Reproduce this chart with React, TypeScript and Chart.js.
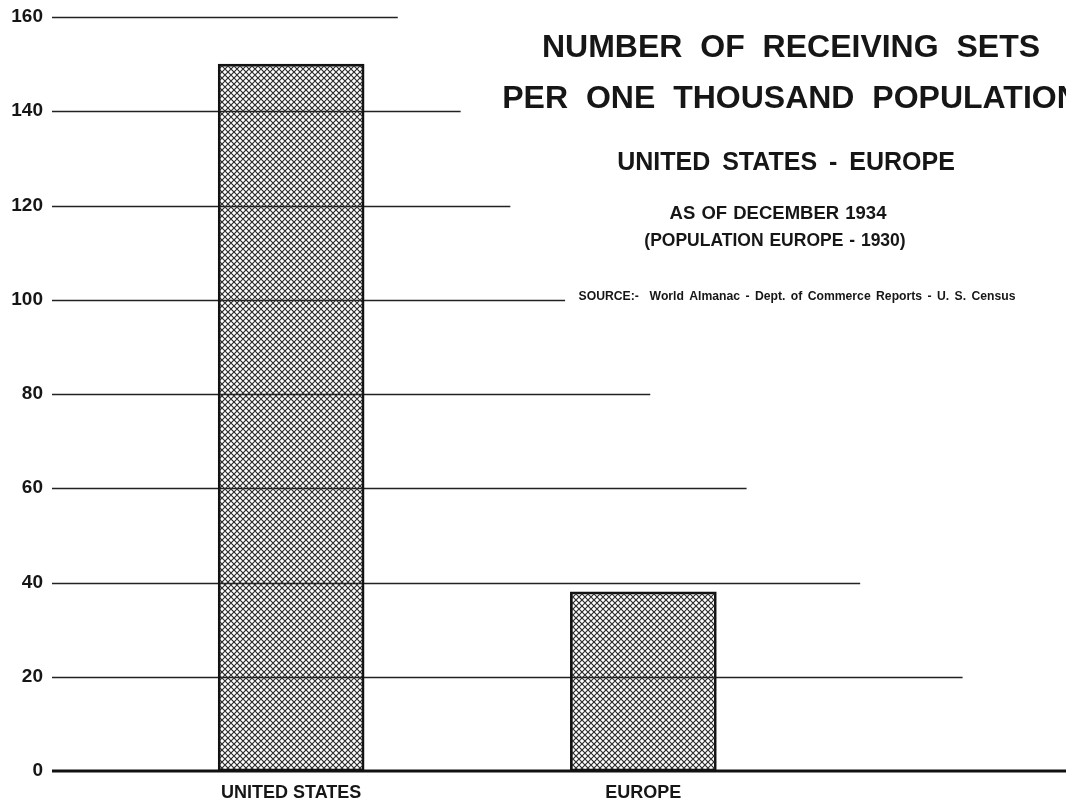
import React, { useEffect, useRef } from "react";
import { Chart, registerables } from "chart.js";

Chart.register(...registerables);

// ---- data ----
const categories = ["UNITED STATES", "EUROPE"];
const setsPerThousand = [150, 38];
const yMin = 0;
const yMax = 160;
const yStep = 20;
const titleLines = [
  "NUMBER OF RECEIVING SETS",
  "PER ONE THOUSAND POPULATION",
  "UNITED STATES - EUROPE",
  "AS OF DECEMBER 1934",
  "(POPULATION EUROPE - 1930)",
  "SOURCE:-  World Almanac - Dept. of Commerce Reports - U. S. Census",
];

// ---- styles ----
// gridline end as fraction of chart width, for values 0,20,...,160
const gridEndFractions = [1.0, 0.898, 0.797, 0.685, 0.59, 0.506, 0.452, 0.403, 0.341];
const titleStyles = [
  { font: "bold 32px 'Liberation Sans'", y: 48, ws: "9px", x: 791 },
  { font: "bold 32px 'Liberation Sans'", y: 99, ws: "9px", x: 791 },
  { font: "bold 25px 'Liberation Sans'", y: 163, ws: "5px", x: 786 },
  { font: "bold 18.5px 'Liberation Sans'", y: 214, ws: "1px", x: 778 },
  { font: "bold 17.5px 'Liberation Sans'", y: 241, ws: "1px", x: 775 },
  { font: "bold 12.2px 'Liberation Sans'", y: 297, ws: "2px", x: 797 },
];
const INK = "#161616";

function makeHatch(): CanvasPattern | string {
  const size = 6;
  const c = document.createElement("canvas");
  c.width = size;
  c.height = size;
  const g = c.getContext("2d");
  if (!g) return "#888";
  g.clearRect(0, 0, size, size);
  g.strokeStyle = "#2a2a2a";
  g.lineWidth = 1.15;
  g.beginPath();
  g.moveTo(-1, -1);
  g.lineTo(size + 1, size + 1);
  g.moveTo(size + 1, -1);
  g.lineTo(-1, size + 1);
  g.stroke();
  const ctx2 = document.createElement("canvas").getContext("2d");
  return (ctx2 && ctx2.createPattern(c, "repeat")) || "#888";
}

const gridPlugin = {
  id: "stairGrid",
  beforeDatasetsDraw(chart: any) {
    const { ctx, chartArea, scales } = chart;
    const y = scales.y;
    ctx.save();
    ctx.strokeStyle = "#222";
    ctx.lineWidth = 1.5;
    for (let i = 1; i < gridEndFractions.length; i++) {
      const v = yMin + i * yStep;
      const py = Math.round(y.getPixelForValue(v)) + 0.5;
      const xEnd = chartArea.left + gridEndFractions[i] * (chartArea.right - chartArea.left);
      ctx.beginPath();
      ctx.moveTo(chartArea.left, py);
      ctx.lineTo(xEnd, py);
      ctx.stroke();
    }
    ctx.restore();
  },
  afterDatasetsDraw(chart: any) {
    const { ctx, chartArea, scales } = chart;
    const y = scales.y;
    const py = y.getPixelForValue(yMin);
    ctx.save();
    ctx.strokeStyle = "#111";
    ctx.lineWidth = 3;
    ctx.beginPath();
    ctx.moveTo(chartArea.left, py);
    ctx.lineTo(chartArea.left + gridEndFractions[0] * (chartArea.right - chartArea.left), py);
    ctx.stroke();
    ctx.restore();
  },
  afterDraw(chart: any) {
    const { ctx } = chart;
    ctx.save();
    ctx.fillStyle = INK;
    ctx.textAlign = "center";
    ctx.textBaseline = "middle";
    titleLines.forEach((t, i) => {
      const s = titleStyles[i];
      ctx.font = s.font;
      try {
        (ctx as any).wordSpacing = s.ws;
      } catch (e) {}
      ctx.fillText(t, s.x, s.y);
    });
    ctx.restore();
  },
};

export default function App() {
  const ref = useRef<HTMLCanvasElement | null>(null);
  useEffect(() => {
    document.body.style.margin = "0";
    document.body.style.background = "#fff";
    if (!ref.current) return;
    const hatch = makeHatch();
    const chart = new Chart(ref.current, {
      type: "bar",
      data: {
        datasets: [
          {
            data: setsPerThousand.map((v, i) => ({ x: i, y: v })),
            backgroundColor: hatch as any,
            borderColor: "#111",
            borderWidth: 2,
            borderSkipped: false,
            barThickness: 146,
          },
        ],
      },
      options: {
        animation: false,
        responsive: false,
        devicePixelRatio: 1,
        layout: { padding: { top: 17, right: 0, left: 0, bottom: 0 } },
        plugins: {
          legend: { display: false },
          tooltip: { enabled: false },
          title: { display: false },
        },
        scales: {
          x: {
            type: "linear",
            offset: false,
            min: -0.679,
            max: 2.2,
            grid: { display: false, drawTicks: false, offset: false },
            border: { display: false },
            afterBuildTicks: (scale: any) => {
              scale.ticks = categories.map((_, i) => ({ value: i }));
            },
            afterFit: (scale: any) => {
              scale.height = 31;
              scale.paddingLeft = 0;
              scale.paddingRight = 0;
            },
            ticks: {
              autoSkip: false,
              maxRotation: 0,
              padding: 11,
              color: INK,
              font: { family: "'Liberation Sans'", size: 18, weight: "bold" },
              callback: (v: any) => categories[v as number] ?? "",
            },
          },
          y: {
            type: "linear",
            min: yMin,
            max: yMax,
            grid: { display: false, drawTicks: false },
            border: { display: false },
            afterFit: (scale: any) => {
              scale.width = 52;
              scale.paddingTop = 0;
              scale.paddingBottom = 0;
            },
            ticks: {
              stepSize: yStep,
              padding: 9,
              color: INK,
              font: { family: "'Liberation Sans'", size: 19, weight: "bold" },
            },
          },
        },
      },
      plugins: [gridPlugin],
    });
    return () => chart.destroy();
  }, []);
  return (
    <div style={{ width: 1066, height: 802 }}>
      <canvas ref={ref} width={1066} height={802} />
    </div>
  );
}
